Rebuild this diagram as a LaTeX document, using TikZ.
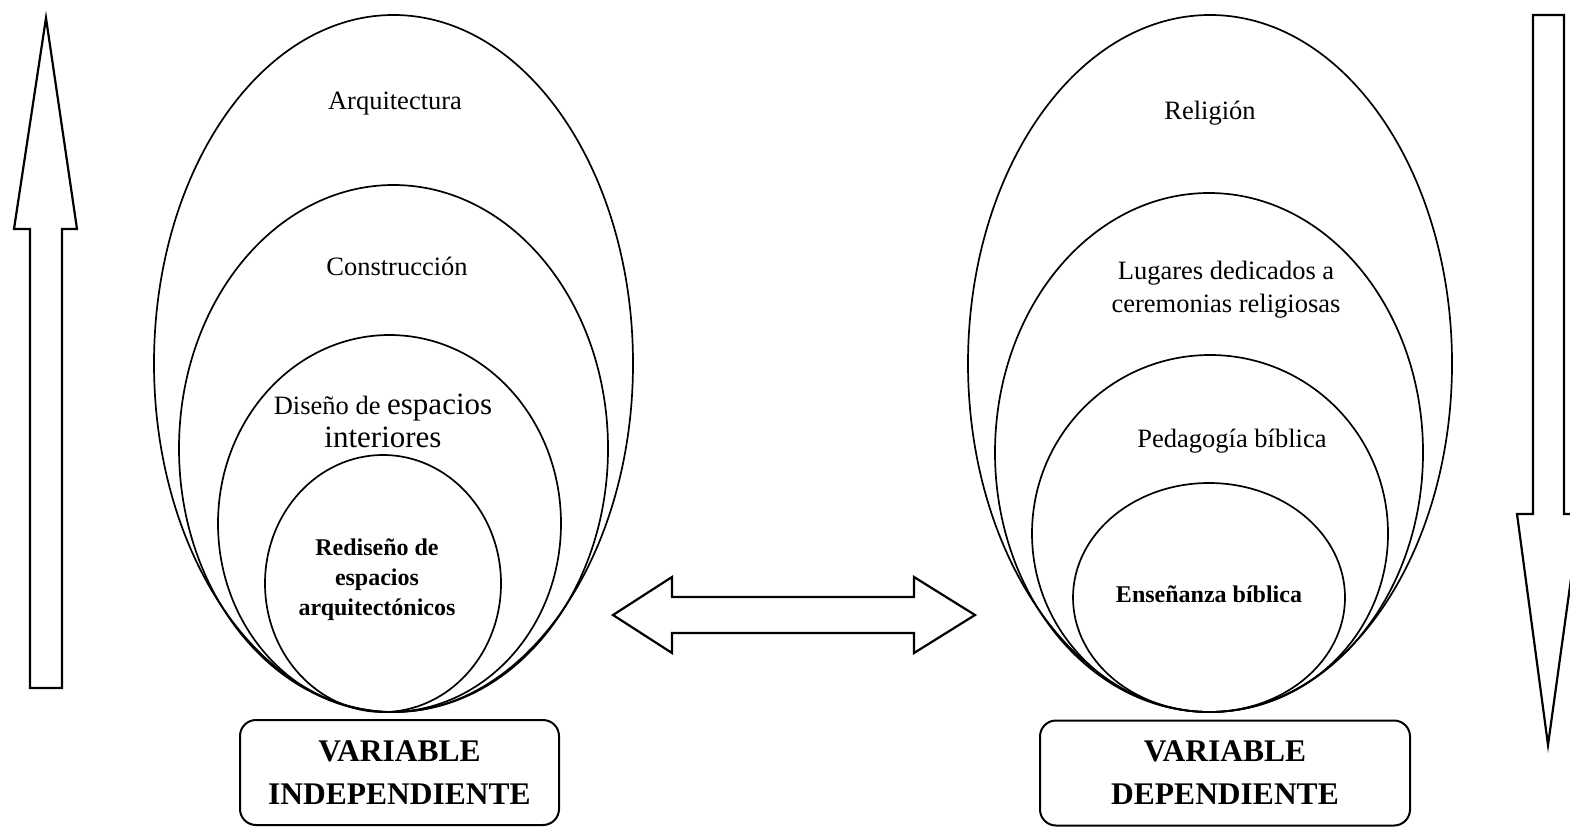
\documentclass[tikz,border=0pt]{standalone}
\usepackage{fontspec}
\setmainfont{Liberation Serif}
\usetikzlibrary{shapes.geometric}
\begin{document}
\begin{tikzpicture}[x=1pt,y=-1pt,
	ring/.style={draw,ellipse,line width=1.7pt,inner sep=0pt},
	blockarrow/.style={draw,line width=2.2pt,line join=miter},
	level/.style={align=center,inner sep=0pt,font=\fontsize{26.5}{33}\selectfont},
	core/.style={align=center,inner sep=0pt,font=\fontsize{24}{30}\selectfont\bfseries},
	varbox/.style={draw,line width=2pt,rounded corners=16pt,minimum height=105pt,align=center,font=\fontsize{31.5}{43}\selectfont\bfseries}]
	\useasboundingbox (0,0) rectangle (1570,832);
	\node [ring,minimum width=479pt,minimum height=697pt] (arq) at (393.5,363.5) {};
	\node [ring,minimum width=429pt,minimum height=527pt] (con) at (393.5,448.5) {};
	\node [ring,minimum width=343pt,minimum height=377pt] (dis) at (389.5,523.5) {};
	\node [ring,minimum width=236pt,minimum height=257pt] (red) at (383,583.5) {};
	\node [ring,minimum width=484pt,minimum height=697pt] (rel) at (1210,363.5) {};
	\node [ring,minimum width=428pt,minimum height=519pt] (lug) at (1209,452.5) {};
	\node [ring,minimum width=356pt,minimum height=357pt] (ped) at (1210,533.5) {};
	\node [ring,minimum width=272pt,minimum height=229pt] (ens) at (1209,597.5) {};
	\node [level] (tarq) at (395,104) {Arquitectura};
	\node [level] (tcon) at (397,266) {Construcción};
	\node [level] (tdis) at (383,421) {Diseño de {\fontsize{31}{37}\selectfont espacios}\\{\fontsize{31}{37}\selectfont interiores}};
	\node [core] (tred) at (377,580) {Rediseño de\\espacios\\arquitectónicos};
	\node [level] (trel) at (1210,113) {Religión};
	\node [level] (tlug) at (1226,290) {Lugares dedicados a\\ceremonias religiosas};
	\node [level] (tped) at (1232,441) {Pedagogía bíblica};
	\node [core] (tens) at (1209,594) {Enseñanza bíblica};
	\node [varbox,minimum width=319pt] (vind) at (399.5,772.5) {VARIABLE\\INDEPENDIENTE};
	\node [varbox,minimum width=370pt] (vdep) at (1225,773) {VARIABLE\\DEPENDIENTE};
	\draw [blockarrow] (30,688) -- (30,229) -- (14,229) -- (46,18) -- (77,229) -- (62,229) -- (62,688) -- cycle;
	\draw [blockarrow] (1533,15) -- (1564,15) -- (1564,514) -- (1580,514) -- (1548,745) -- (1517,514) -- (1533,514) -- cycle;
	\draw [blockarrow] (613,615) -- (672,577) -- (672,597) -- (914,597) -- (914,577) -- (975,615) -- (914,653) -- (914,633) -- (672,633) -- (672,653) -- cycle;
\end{tikzpicture}
\end{document}
